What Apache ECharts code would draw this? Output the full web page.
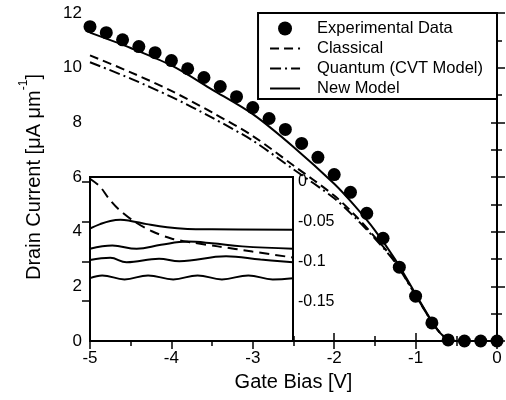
<!DOCTYPE html>
<html>
<head>
<meta charset="utf-8">
<script src="https://cdn.jsdelivr.net/npm/echarts@6/dist/echarts.min.js"></script>
<style>html,body{margin:0;padding:0;background:#fff}#c{width:506px;height:400px}</style>
</head>
<body>
<div id="c"></div>
<script>
// Experimental data
const expBias = [-5.0, -4.8, -4.6, -4.4, -4.2, -4.0, -3.8, -3.6, -3.4, -3.2, -3.0, -2.8, -2.6, -2.4, -2.2, -2.0, -1.8, -1.6, -1.4, -1.2, -1.0, -0.8, -0.6, -0.4, -0.2, 0.0];
const expCurrent = [11.5, 11.28, 11.02, 10.77, 10.55, 10.26, 9.96, 9.64, 9.31, 8.94, 8.54, 8.14, 7.74, 7.23, 6.72, 6.09, 5.44, 4.67, 3.76, 2.70, 1.64, 0.66, 0.04, 0.0, 0.0, 0.0];

// Model curves
const modelBias = [-5, -4.5, -4, -3.5, -3, -2.5, -2, -1.75, -1.5, -1.25, -1, -0.8, -0.7, -0.6, -0.5, 0];
const classical = [10.45, 9.83, 9.15, 8.36, 7.5, 6.42, 5.32, 4.62, 3.8, 2.9, 1.68, 0.7, 0.3, 0.06, 0, 0];
const quantum   = [10.2, 9.6, 8.93, 8.17, 7.33, 6.28, 5.22, 4.53, 3.75, 2.87, 1.67, 0.7, 0.3, 0.06, 0, 0];
const newModel  = [11.28, 10.72, 10.08, 9.2, 8.3, 7.1, 5.75, 4.95, 4.05, 2.98, 1.72, 0.72, 0.3, 0.06, 0, 0];

// Inset curves (position along inset 0..100, value on right axis)
const insetDashU = [0, 5, 9, 14, 22, 30.5, 40, 50, 63, 80, 100];
const insetDashV = [0.004, -0.006, -0.02, -0.034, -0.05, -0.062, -0.071, -0.076, -0.081, -0.0875, -0.095];
const insetAU = [0, 5, 10, 15, 20, 28, 38, 48, 60, 100];
const insetAV = [-0.0585, -0.053, -0.049, -0.0475, -0.049, -0.053, -0.057, -0.059, -0.0595, -0.06];
const insetBU = [0, 11, 23, 35, 48, 60, 75, 100];
const insetBV = [-0.084, -0.080, -0.084, -0.079, -0.075, -0.077, -0.081, -0.084];
const insetCU = [0, 10, 18, 34, 44, 67, 84, 100];
const insetCV = [-0.098, -0.0954, -0.101, -0.0966, -0.0996, -0.0934, -0.0975, -0.101];
const insetDU = [0, 6, 17, 28.6, 41, 53, 65, 78, 90, 100];
const insetDV = [-0.121, -0.1175, -0.1225, -0.1175, -0.1225, -0.1175, -0.1225, -0.1175, -0.1225, -0.121];

const insetTicks = [0, -0.05, -0.1, -0.15];
const seriesNames = ['Experimental Data', 'Classical', 'Quantum (CVT Model)', 'New Model'];

const zip = (a, b) => a.map((v, i) => [v, b[i]]);
const FONT = "'Liberation Sans', Arial, Helvetica, sans-serif";
const black = '#000';

const chart = echarts.init(document.getElementById('c'), null, {renderer: 'canvas'});

const tickStyle = {lineStyle: {color: black, width: 1.5}};
const insetLine = (u, v, extra) => Object.assign({
  type: 'line', xAxisIndex: 2, yAxisIndex: 2, data: zip(u, v), symbol: 'none',
  smooth: 0.4, lineStyle: {color: black, width: 2}, z: 4, silent: true
}, extra || {});

chart.setOption({
  animation: false,
  backgroundColor: '#fff',
  textStyle: {fontFamily: FONT, color: black},
  grid: [
    {left: 90, top: 13, width: 407, height: 328, show: false},
    {left: 90, top: 177, width: 203, height: 164, show: true, backgroundColor: '#fff',
     borderColor: black, borderWidth: 2, z: 1}
  ],
  legend: {
    data: seriesNames.map((n, i) => i === 0 ? {name: n} : {name: n, itemStyle: {opacity: 0, borderWidth: 0}}),
    orient: 'vertical', right: 9, top: 13,
    padding: [7, 14, 2, 11], itemWidth: 30, itemHeight: 14, itemGap: 3,
    borderColor: black, borderWidth: 2, backgroundColor: '#fff',
    textStyle: {fontSize: 16.5, color: black, fontFamily: FONT, padding: [0, 0, 0, 12], lineHeight: 16},
    z: 6
  },
  xAxis: [
    {type: 'value', gridIndex: 0, min: -5, max: 0, interval: 1, position: 'bottom',
     axisLine: {lineStyle: {color: black, width: 2}},
     axisTick: Object.assign({inside: true, length: 8}, tickStyle),
     minorTick: Object.assign({show: true, splitNumber: 2, length: 5}, tickStyle),
     splitLine: {show: false},
     axisLabel: {fontSize: 17, color: black, margin: 9, fontFamily: FONT},
     name: 'Gate Bias [V]', nameLocation: 'middle', nameGap: 31,
     nameTextStyle: {fontSize: 20, color: black, fontFamily: FONT}},
    {type: 'value', gridIndex: 0, min: -5, max: 0, interval: 1, position: 'top',
     axisLine: {lineStyle: {color: black, width: 2}},
     axisTick: Object.assign({inside: true, length: 8}, tickStyle),
     minorTick: Object.assign({show: true, splitNumber: 2, length: 5}, tickStyle),
     splitLine: {show: false}, axisLabel: {show: false}},
    {type: 'value', gridIndex: 1, min: 0, max: 100, show: false}
  ],
  yAxis: [
    {type: 'value', gridIndex: 0, min: 0, max: 12, interval: 2, position: 'left',
     axisLine: {lineStyle: {color: black, width: 2}},
     axisTick: Object.assign({inside: true, length: 8}, tickStyle),
     minorTick: Object.assign({show: true, splitNumber: 2, length: 5}, tickStyle),
     splitLine: {show: false},
     axisLabel: {fontSize: 17, color: black, margin: 8, fontFamily: FONT},
     name: '{n|Drain Current [μA μm}{s|-1}{n|]}', nameLocation: 'middle', nameGap: 46,
     nameTextStyle: {color: black, fontFamily: FONT, rich: {
       n: {fontSize: 20, lineHeight: 26, verticalAlign: 'bottom', fontFamily: FONT, color: black},
       s: {fontSize: 12, lineHeight: 26, verticalAlign: 'top', fontFamily: FONT, color: black}
     }}},
    {type: 'value', gridIndex: 0, min: 0, max: 12, interval: 1, position: 'right',
     axisLine: {lineStyle: {color: black, width: 2}},
     axisTick: Object.assign({inside: true, length: 6}, tickStyle),
     splitLine: {show: false}, axisLabel: {show: false}},
    {type: 'value', gridIndex: 1, min: -0.2, max: 0.00625, interval: 0.05, position: 'right', z: 3,
     axisLine: {show: false},
     axisTick: Object.assign({inside: true, length: 8}, tickStyle),
     splitLine: {show: false},
     axisLabel: {fontSize: 16, color: black, margin: 5, fontFamily: FONT, showMaxLabel: false, showMinLabel: false,
       formatter: v => insetTicks.some(t => Math.abs(t - v) < 1e-6) ? String(Math.round(v * 100) / 100) : ''}}
  ],
  series: [
    {name: 'Classical', type: 'line', xAxisIndex: 0, yAxisIndex: 0, data: zip(modelBias, classical),
     symbol: 'none', smooth: 0.3, lineStyle: {color: black, width: 2, type: [9, 5]}, itemStyle: {color: black}, z: 3},
    {name: 'Quantum (CVT Model)', type: 'line', xAxisIndex: 0, yAxisIndex: 0, data: zip(modelBias, quantum),
     symbol: 'none', smooth: 0.3, lineStyle: {color: black, width: 2, type: [11, 4, 2, 4]}, itemStyle: {color: black}, z: 3},
    {name: 'New Model', type: 'line', xAxisIndex: 0, yAxisIndex: 0, data: zip(modelBias, newModel),
     symbol: 'none', smooth: 0.3, lineStyle: {color: black, width: 2}, itemStyle: {color: black}, z: 3},
    {name: 'Experimental Data', type: 'scatter', xAxisIndex: 0, yAxisIndex: 0, data: zip(expBias, expCurrent),
     symbol: 'circle', symbolSize: 13, itemStyle: {color: black, opacity: 1}, clip: false, z: 5},
    insetLine(insetDashU, insetDashV, {lineStyle: {color: black, width: 2, type: [10, 6]}, smooth: 0.3}),
    insetLine(insetAU, insetAV),
    insetLine(insetBU, insetBV),
    insetLine(insetCU, insetCV),
    insetLine(insetDU, insetDV)
  ]
});
</script>
</body>
</html>
